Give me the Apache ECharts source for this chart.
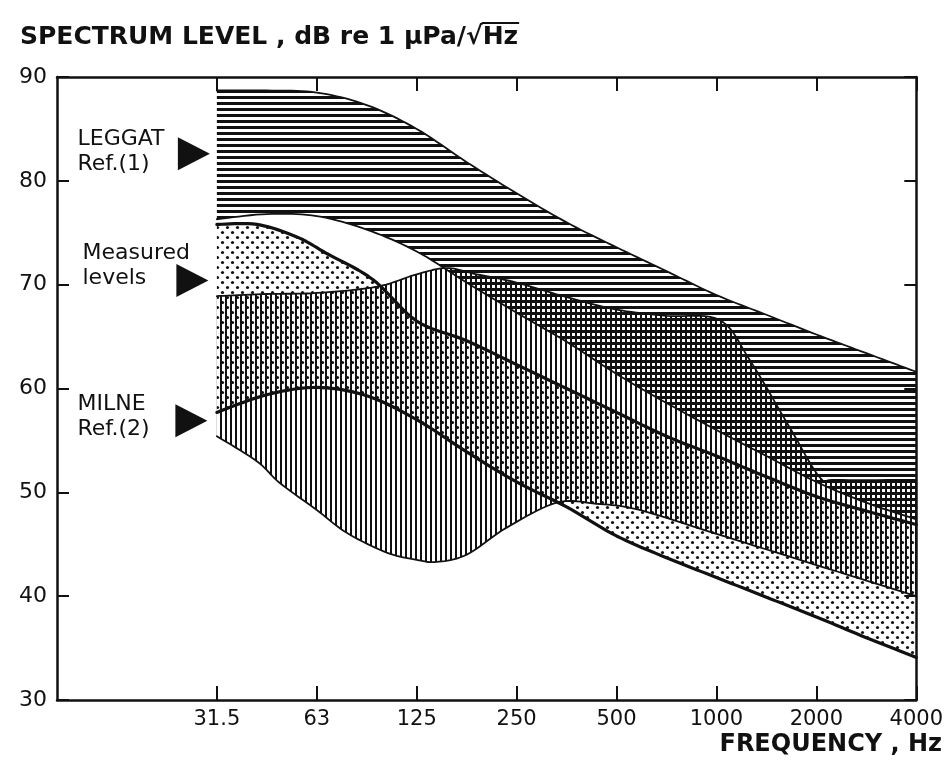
<!DOCTYPE html>
<html>
<head>
<meta charset="utf-8">
<script src="https://cdn.jsdelivr.net/npm/echarts@6.0.0/dist/echarts.min.js"></script>
<style>
  html, body { margin: 0; padding: 0; background: #fff; }
  #main { width: 946px; height: 761px; }
</style>
</head>
<body>
<div id="main"></div>
<script>
// x = octave index counted from 31.5 Hz (31.5 -> 0, 63 -> 1, ... 4000 -> 7), y = dB
var freqLabels = ['31.5', '63', '125', '250', '500', '1000', '2000', '4000'];
var octaves = [0, 1, 2, 3, 4, 5, 6, 7];

// LEGGAT Ref.(1) band (horizontal hatching)
var leggatUpper = [[0, 88.7], [0.5, 88.7], [1, 88.5], [1.5, 87.3], [2, 85.0], [2.5, 81.8], [3, 78.8],
  [3.5, 76.0], [4, 73.6], [4.5, 71.3], [5, 69.0], [5.5, 67.1], [6, 65.2], [6.5, 63.4], [7, 61.6]];
var leggatLower = [[0, 76.3], [0.5, 76.8], [1, 76.6], [1.5, 75.3], [2, 73.2], [2.5, 70.2], [3, 67.3],
  [3.5, 64.5], [4, 61.4], [4.5, 58.6], [5, 56.0], [5.5, 53.5], [6, 51.0], [6.5, 49.0], [7, 47.4]];

// Measured levels (dots, heavy boundaries)
var measuredUpper = [[0, 75.8], [0.4, 75.8], [0.8, 74.6], [1.1, 73.0], [1.56, 70.5], [2, 66.5], [2.5, 64.6],
  [3, 62.3], [3.5, 60.0], [4, 57.7], [4.5, 55.4], [5, 53.5], [5.5, 51.5], [6, 49.6], [6.5, 48.2], [7, 46.9]];
var measuredLower = [[0, 57.7], [0.5, 59.4], [1, 60.1], [1.5, 59.3], [2, 57.0], [2.5, 53.9], [3, 51.0],
  [3.5, 48.6], [4, 45.8], [4.5, 43.7], [5, 41.8], [5.5, 39.9], [6, 38.0], [6.5, 36.0], [7, 34.1]];

// MILNE Ref.(2) band (vertical hatching)
var milneUpper = [[0, 68.9], [0.5, 69.1], [1, 69.2], [1.6, 69.8], [2, 71.0], [2.3, 71.6], [2.6, 71.0],
  [3, 70.2], [3.5, 68.8], [4, 67.6], [4.5, 67.0], [5.03, 66.6], [5.33, 62.8], [5.73, 56.3], [6.03, 51.5],
  [6.2, 51.2], [7, 51.2]];
var milneLower = [[0, 55.4], [0.4, 53.0], [0.63, 50.9], [1, 48.3], [1.3, 46.1], [1.7, 44.2], [2, 43.5],
  [2.2, 43.3], [2.5, 44.0], [2.9, 46.6], [3.4, 49.0], [3.8, 48.9], [4.23, 48.3], [5, 46.0], [6, 43.0], [7, 40.0]];

// annotations on the left
var notePoints = [[-0.23, 82.6], [-0.245, 70.4], [-0.255, 56.9]];
var textPoints = [[-1.4, 82.8], [-1.35, 71.8], [-1.4, 57.3]];
var textLabels = ['LEGGAT\nRef.(1)', 'Measured\nlevels', 'MILNE\nRef.(2)'];

var ink = '#111';
var fontName = '"DejaVu Sans", "Liberation Sans", sans-serif';

function makePattern(kind) {
  var c = document.createElement('canvas');
  var ctx;
  if (kind === 'h') {
    c.width = 6; c.height = 6;
    ctx = c.getContext('2d');
    ctx.fillStyle = ink;
    ctx.fillRect(0, 0, 6, 3);
  } else if (kind === 'v') {
    c.width = 5; c.height = 5;
    ctx = c.getContext('2d');
    ctx.fillStyle = ink;
    ctx.fillRect(0, 0, 2, 5);
  } else {
    c.width = 10; c.height = 10;
    ctx = c.getContext('2d');
    ctx.fillStyle = ink;
    ctx.beginPath(); ctx.arc(2.5, 2.5, 1.6, 0, Math.PI * 2); ctx.fill();
    ctx.beginPath(); ctx.arc(7.5, 7.5, 1.6, 0, Math.PI * 2); ctx.fill();
  }
  return { image: c, repeat: 'repeat' };
}

// catmull-rom through the pixel points
function spline(pts) {
  var out = [];
  var n = pts.length;
  for (var i = 0; i < n - 1; i++) {
    var p0 = pts[Math.max(i - 1, 0)], p1 = pts[i], p2 = pts[i + 1], p3 = pts[Math.min(i + 2, n - 1)];
    for (var k = 0; k < 10; k++) {
      var t = k / 10, t2 = t * t, t3 = t2 * t;
      var pt = [];
      for (var d = 0; d < 2; d++) {
        pt.push(0.5 * (2 * p1[d] + (-p0[d] + p2[d]) * t +
          (2 * p0[d] - 5 * p1[d] + 4 * p2[d] - p3[d]) * t2 +
          (-p0[d] + 3 * p1[d] - 3 * p2[d] + p3[d]) * t3));
      }
      out.push(pt);
    }
  }
  out.push(pts[n - 1]);
  return out;
}

function bandSeries(upper, lower, pattern, z) {
  return {
    type: 'custom',
    silent: true,
    z: z,
    data: [upper[0]],
    renderItem: function (params, api) {
      var top = spline(upper.map(function (p) { return api.coord(p); }));
      var bot = spline(lower.map(function (p) { return api.coord(p); })).reverse();
      return {
        type: 'polygon',
        shape: { points: top.concat(bot) },
        style: { fill: pattern, stroke: null }
      };
    }
  };
}

function lineSeries(pts, width, z) {
  return {
    type: 'custom',
    silent: true,
    z: z,
    data: [pts[0]],
    renderItem: function (params, api) {
      return {
        type: 'polyline',
        shape: { points: spline(pts.map(function (p) { return api.coord(p); })) },
        style: { stroke: ink, lineWidth: width, fill: null, lineJoin: 'round', lineCap: 'round' }
      };
    }
  };
}

var myChart = echarts.init(document.getElementById('main'));

// where the overline of sqrt(Hz) goes
var titleFont = 'bold 25px ' + fontName;
var titleText = 'SPECTRUM LEVEL , dB re 1 \u03bcPa/\u221aHz';
var mctx = document.createElement('canvas').getContext('2d');
mctx.font = titleFont;
var preW = mctx.measureText('SPECTRUM LEVEL , dB re 1 \u03bcPa/\u221a').width;
var hzW = mctx.measureText('Hz').width;
var titleX = 20, titleY = 25;

var tickStyle = { color: ink, width: 2 };
var frameLine = { show: true, onZero: false, lineStyle: { color: ink, width: 2.5 } };

var option = {
  backgroundColor: '#fff',
  animation: false,
  grid: { left: 57, right: 29, top: 77, bottom: 61, containLabel: false },
  xAxis: [
    {
      type: 'value', min: -1.6, max: 7, position: 'bottom',
      axisLine: frameLine,
      axisTick: { show: true, inside: true, length: 14, customValues: octaves, lineStyle: tickStyle },
      axisLabel: {
        customValues: octaves, margin: 9, color: ink, fontSize: 21, fontFamily: fontName,
        formatter: function (v) { return freqLabels[Math.round(v)]; }
      },
      splitLine: { show: false }
    },
    {
      type: 'value', min: -1.6, max: 7, position: 'top',
      axisLine: frameLine,
      axisTick: { show: true, inside: true, length: 14, customValues: octaves, lineStyle: tickStyle },
      axisLabel: { show: false },
      splitLine: { show: false }
    }
  ],
  yAxis: [
    {
      type: 'value', min: 30, max: 90, interval: 10, position: 'left',
      axisLine: frameLine,
      axisTick: { show: true, inside: true, length: 12, lineStyle: tickStyle },
      axisLabel: { margin: 10, color: ink, fontSize: 22, fontFamily: fontName },
      splitLine: { show: false }
    },
    {
      type: 'value', min: 30, max: 90, interval: 10, position: 'right',
      axisLine: frameLine,
      axisTick: { show: true, inside: true, length: 12, lineStyle: tickStyle },
      axisLabel: { show: false },
      splitLine: { show: false }
    }
  ],
  graphic: [
    {
      type: 'text', left: titleX, top: titleY,
      style: { text: titleText, font: titleFont, fill: ink }
    },
    {
      type: 'line', silent: true,
      shape: { x1: titleX + preW - 1, y1: titleY - 2, x2: titleX + preW + hzW + 1, y2: titleY - 2 },
      style: { stroke: ink, lineWidth: 1.8 }
    },
    {
      type: 'text', right: 4, top: 733,
      style: { text: 'FREQUENCY , Hz', font: 'bold 24px ' + fontName, fill: ink }
    }
  ],
  series: [
    bandSeries(leggatUpper, leggatLower, makePattern('h'), 1),
    bandSeries(milneUpper, milneLower, makePattern('v'), 2),
    bandSeries(measuredUpper, measuredLower, makePattern('d'), 3),
    lineSeries(leggatUpper, 1.8, 5),
    lineSeries(leggatLower, 1.8, 5),
    lineSeries(milneUpper, 1.8, 5),
    lineSeries(milneLower, 1.8, 5),
    lineSeries(measuredUpper, 3.2, 6),
    lineSeries(measuredLower, 3.2, 6),
    {
      type: 'scatter', silent: true, z: 10,
      symbol: 'triangle', symbolRotate: -90, symbolSize: [33, 32],
      itemStyle: { color: ink, opacity: 1 },
      data: notePoints
    },
    {
      type: 'scatter', silent: true, z: 10,
      symbolSize: 1, itemStyle: { color: 'rgba(0,0,0,0)', opacity: 1 },
      label: {
        show: true, position: 'right', distance: 0, align: 'left', verticalAlign: 'middle',
        color: ink, fontSize: 22, lineHeight: 25, fontFamily: fontName,
        formatter: function (p) { return textLabels[p.dataIndex]; }
      },
      data: textPoints
    }
  ]
};

myChart.setOption(option);
</script>
</body>
</html>
